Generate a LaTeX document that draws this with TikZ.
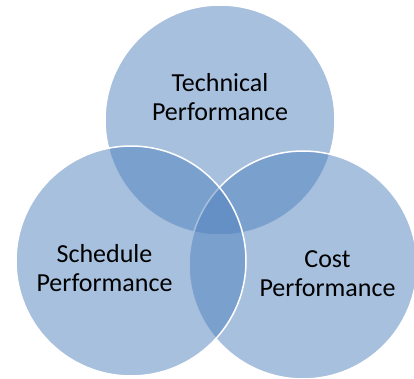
\documentclass[tikz,border=0pt]{standalone}
\usepackage{fontspec}
\setmainfont{Carlito}
\definecolor{vennblau}{HTML}{4F81BD}
\tikzset{
  kreis/.style={fill=vennblau, fill opacity=0.5, draw=white, line width=1.5pt},
  beschrift/.style={align=center, font=\fontsize{26}{28.5}\selectfont, anchor=base}
}
\begin{document}
\begin{tikzpicture}[x=1pt,y=-1pt]
	\useasboundingbox (0,0) rectangle (414,379);
	% Kreise: oben, rechts, links
	\draw[kreis] (220,120) circle[radius=115];
	\draw[kreis] (303,265) circle[radius=114];
	\draw[kreis] (131,261) circle[radius=115];
	\node[beschrift] (technik) at (220,120.5) {Technical\\Performance};
	\node[beschrift] (termin) at (104.5,291) {Schedule\\Performance};
	\node[beschrift] (kosten) at (327.5,296) {Cost\\Performance};
\end{tikzpicture}
\end{document}
